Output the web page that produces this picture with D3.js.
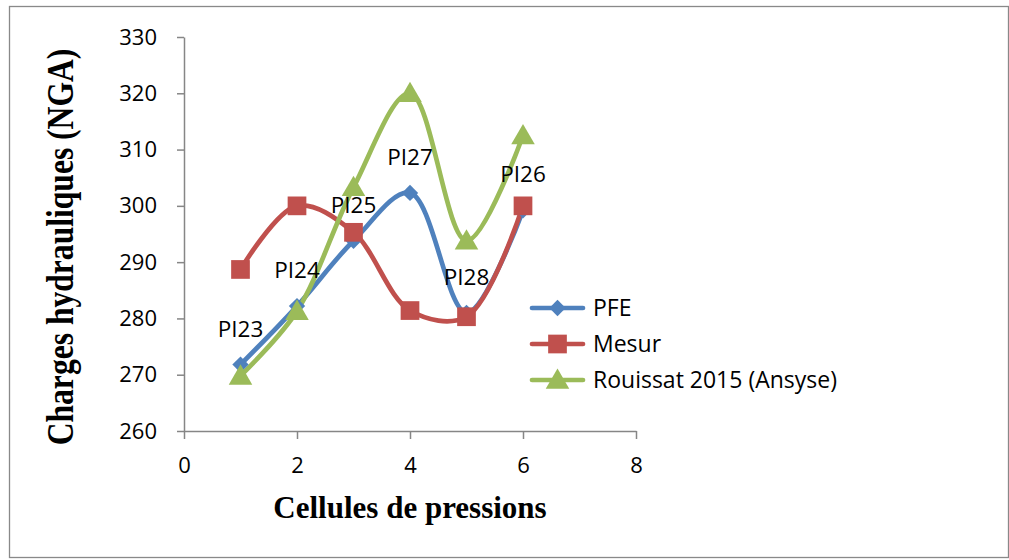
<!DOCTYPE html>
<html>
<head>
<meta charset="utf-8">
<script src="https://cdn.jsdelivr.net/npm/d3@7"></script>
<style>
  html, body { margin: 0; padding: 0; background: #fff; }
  svg { display: block; }
</style>
</head>
<body>
<svg id="chart" width="1009" height="560"></svg>
<script>
// Pressure cells along the x axis
const cells = [1, 2, 3, 4, 5, 6];
const cellNames = ["PI23", "PI24", "PI25", "PI27", "PI28", "PI26"];

// Hydraulic heads (NGA) per series
const pfe = [271.8, 282.2, 293.8, 302.3, 281.0, 299.2];
const mesur = [288.7, 300.0, 295.3, 281.4, 280.3, 300.0];
const rouissat = [269.8, 281.3, 303.3, 320.0, 293.8, 312.5];

const seriesNames = ["PFE", "Mesur", "Rouissat 2015 (Ansyse)"];

const xTicks = [0, 2, 4, 6, 8];
const yTicks = [260, 270, 280, 290, 300, 310, 320, 330];

const svg = d3.select("#chart");
const W = 1009, H = 560;

// chart border
svg.append("rect")
  .attr("x", 9.5).attr("y", 6.5)
  .attr("width", W - 10).attr("height", 551)
  .attr("fill", "#fff")
  .attr("stroke", "#898989").attr("stroke-width", 1.3);

const plot = { left: 184, right: 636, top: 37, bottom: 431 };

const x = d3.scaleLinear().domain([0, 8]).range([plot.left, plot.right]);
const y = d3.scaleLinear().domain([260, 330]).range([plot.bottom, plot.top]);

const tickFont = "'Open Sans', sans-serif";
const titleFont = "'Liberation Serif', 'Times New Roman', serif";
const axisColor = "#868686";

const yAxis = svg.append("g")
  .attr("transform", `translate(${plot.left},0)`)
  .call(d3.axisLeft(y).tickValues(yTicks).tickSize(7).tickSizeOuter(0).tickPadding(20)
    .tickFormat(d3.format("d")));

const xAxis = svg.append("g")
  .attr("transform", `translate(0,${plot.bottom})`)
  .call(d3.axisBottom(x).tickValues(xTicks).tickSize(8).tickSizeOuter(0).tickPadding(18)
    .tickFormat(d3.format("d")));

[xAxis, yAxis].forEach(g => {
  g.select(".domain").attr("stroke", axisColor).attr("stroke-width", 1.5);
  g.selectAll(".tick line").attr("stroke", axisColor).attr("stroke-width", 1.5);
  g.selectAll(".tick text")
    .attr("fill", "#000")
    .style("font-family", tickFont)
    .style("font-size", "22px");
});

// axis titles
svg.append("text")
  .attr("x", (plot.left + plot.right) / 2)
  .attr("y", 518)
  .attr("text-anchor", "middle")
  .style("font-family", titleFont)
  .style("font-weight", "bold")
  .style("font-size", "31px")
  .text("Cellules de pressions");

// vertical title, drawn slightly wide across its baseline
svg.append("text")
  .attr("transform", "translate(73,247) rotate(-90) scale(1,1.17)")
  .attr("text-anchor", "middle")
  .style("font-family", titleFont)
  .style("font-weight", "bold")
  .style("font-size", "31.6px")
  .text("Charges hydrauliques (NGA)");

const colors = ["#4F81BD", "#C0504D", "#9BBB59"];
const seriesValues = [pfe, mesur, rouissat];

const line = d3.line()
  .x(d => x(d[0]))
  .y(d => y(d[1]))
  .curve(d3.curveCatmullRom.alpha(0.5));

// marker shapes
const markerPath = [
  d3.symbol().type(d3.symbolDiamond2).size(170)(),
  d3.symbol().type(d3.symbolSquare).size(350)(),
  d3.symbol().type(d3.symbolTriangle).size(240)()
];

seriesValues.forEach((vals, i) => {
  const pts = cells.map((c, j) => [c, vals[j]]);
  svg.append("path")
    .attr("d", line(pts))
    .attr("fill", "none")
    .attr("stroke", colors[i])
    .attr("stroke-width", 4.7)
    .attr("stroke-linecap", "round");
});

seriesValues.forEach((vals, i) => {
  svg.append("g").selectAll("path")
    .data(cells.map((c, j) => [c, vals[j]]))
    .join("path")
    .attr("d", markerPath[i])
    .attr("transform", d => `translate(${x(d[0])},${y(d[1]) + (i === 2 ? 2 : 0)})`)
    .attr("fill", colors[i]);
});

// cell names placed above the PFE points
svg.append("g").selectAll("text")
  .data(cells.map((c, j) => ({ c, v: pfe[j], name: cellNames[j] })))
  .join("text")
  .attr("x", d => x(d.c))
  .attr("y", d => y(d.v) - 28)
  .attr("text-anchor", "middle")
  .style("font-family", tickFont)
  .style("font-size", "22.5px")
  .attr("fill", "#000")
  .text(d => d.name);

// legend
const legend = svg.append("g").attr("transform", "translate(532,308)");
seriesNames.forEach((name, i) => {
  const g = legend.append("g").attr("transform", `translate(0,${i * 36})`);
  g.append("line")
    .attr("x1", 0).attr("x2", 51)
    .attr("stroke", colors[i]).attr("stroke-width", 4.7)
    .attr("stroke-linecap", "round");
  g.append("path")
    .attr("d", markerPath[i])
    .attr("transform", `translate(25.5,${i === 2 ? 2 : 0})`)
    .attr("fill", colors[i]);
  g.append("text")
    .attr("x", 61)
    .attr("y", 0)
    .attr("dy", "0.36em")
    .style("font-family", tickFont)
    .style("font-size", "23px")
    .attr("fill", "#000")
    .text(name);
});
</script>
</body>
</html>
